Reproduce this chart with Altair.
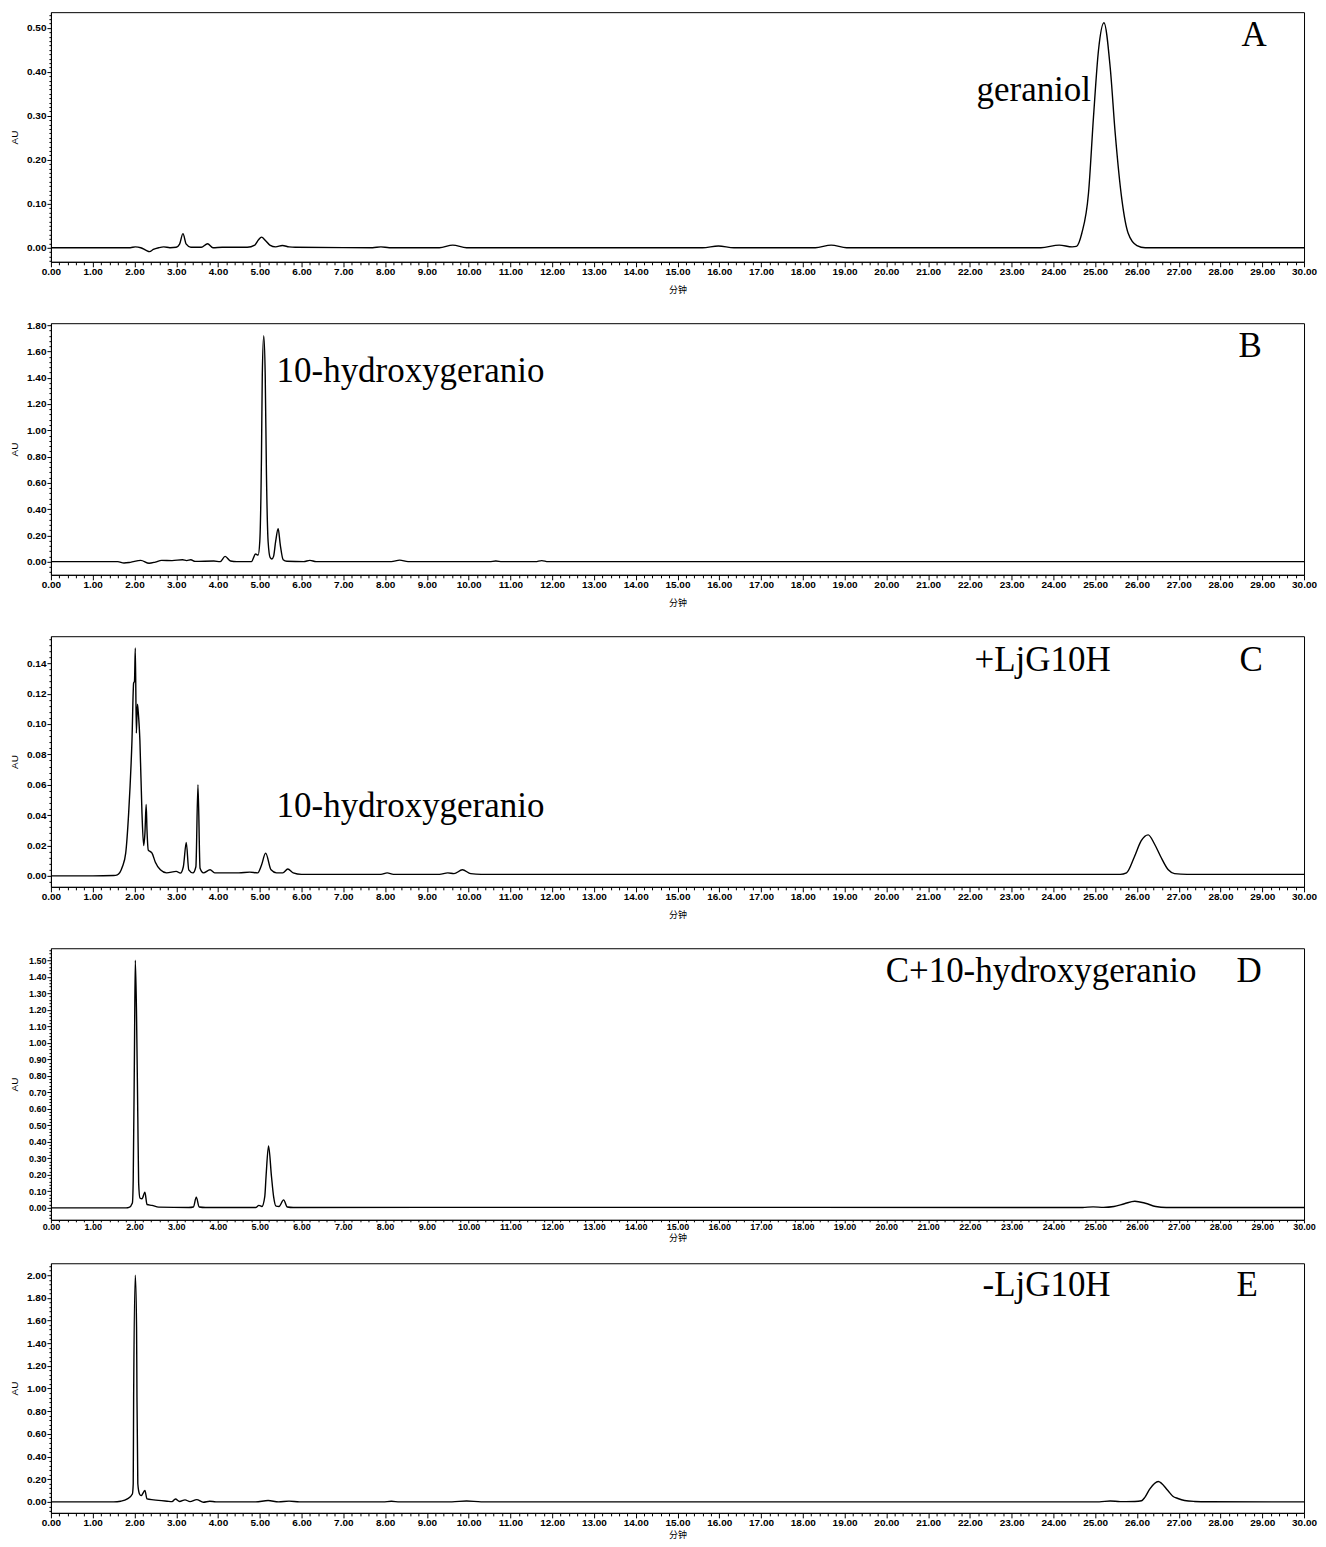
import math
import altair as alt
import pandas as pd

# ---------------- data ----------------
# Panel A
tA = [0.0, 1.9, 2.02, 2.15, 2.28, 2.36, 2.45, 2.58, 2.7, 2.85,
      3.0, 3.08, 3.16, 3.24, 3.35, 3.6, 3.75, 3.88, 4.1, 4.7,
      4.88, 4.97, 5.04, 5.14, 5.24, 5.38, 5.54, 5.7, 5.85, 7.7,
      7.9, 8.1, 9.3, 9.62, 9.95, 15.6, 15.98, 16.35, 18.3, 18.68,
      19.05, 23.7, 24.14, 24.45, 24.55, 24.68, 24.84, 24.96, 25.08, 25.21,
      25.36, 25.48, 25.64, 25.79, 26.0, 26.2, 30.0]
yA = [0.0, 0.0, 0.002, 0.0, -0.006, -0.009, -0.004, 0.0, 0.002, 0.0,
      0.001, 0.008, 0.032, 0.008, 0.001, 0.001, 0.009, 0.0, 0.001, 0.001,
      0.006, 0.018, 0.024, 0.016, 0.006, 0.002, 0.005, 0.002, 0.001, 0.0,
      0.002, 0.0, 0.0, 0.006, 0.0, 0.0, 0.004, 0.0, 0.0, 0.006,
      0.0, 0.0, 0.006, 0.002, 0.003, 0.033, 0.124, 0.298, 0.45, 0.512,
      0.41, 0.26, 0.109, 0.033, 0.005, 0.0, 0.0]

# Panel B
tB = [0.0, 1.6, 1.75, 1.9, 2.15, 2.35, 2.5, 2.65, 2.9, 3.15,
      3.25, 3.35, 3.45, 3.9, 4.05, 4.17, 4.3, 4.45, 4.8, 4.9,
      4.96, 5.0, 5.04, 5.06, 5.095, 5.13, 5.16, 5.2, 5.25, 5.29,
      5.33, 5.38, 5.44, 5.49, 5.56, 5.65, 6.05, 6.2, 6.35, 8.15,
      8.35, 8.55, 10.5, 10.65, 10.8, 11.6, 11.75, 11.9, 30.0]
yB = [0.0, 0.0, -0.01, -0.005, 0.01, -0.012, -0.003, 0.01, 0.008, 0.015,
      0.008, 0.015, 0.002, 0.005, 0.0, 0.04, 0.005, 0.0, 0.0, 0.058,
      0.05, 0.154, 0.79, 1.42, 1.72, 1.42, 0.66, 0.15, 0.03, 0.02,
      0.04, 0.154, 0.25, 0.13, 0.015, 0.003, 0.0, 0.01, 0.0, 0.0,
      0.012, 0.0, 0.0, 0.005, 0.0, 0.0, 0.008, 0.0, 0.0]

# Panel C
tC = [0.0, 1.0, 1.5, 1.59, 1.71, 1.79, 1.86, 1.94, 1.98, 2.0,
      2.02, 2.045, 2.07, 2.09, 2.13, 2.18, 2.22, 2.25, 2.28, 2.30,
      2.33, 2.38, 2.42, 2.5, 2.62, 2.77, 3.0, 3.1, 3.17, 3.24,
      3.3, 3.4, 3.47, 3.52, 3.57, 3.65, 3.81, 3.92, 4.5, 4.76,
      4.95, 5.04, 5.14, 5.27, 5.4, 5.55, 5.67, 5.8, 6.0, 7.9,
      8.05, 8.2, 9.3, 9.5, 9.65, 9.85, 10.05, 10.3, 25.6, 25.75,
      25.94, 26.1, 26.27, 26.42, 26.57, 26.75, 26.9, 27.2, 30.0]
yC = [0.0, 0.0, 0.0003, 0.0007, 0.006, 0.015, 0.041, 0.089, 0.127, 0.128,
      0.150, 0.094, 0.113, 0.108, 0.089, 0.041, 0.020, 0.028, 0.047, 0.030,
      0.017, 0.016, 0.015, 0.009, 0.004, 0.002, 0.003, 0.0018, 0.006, 0.022,
      0.004, 0.002, 0.006, 0.060, 0.005, 0.002, 0.004, 0.002, 0.002, 0.0025,
      0.002, 0.007, 0.015, 0.004, 0.002, 0.002, 0.0045, 0.002, 0.001, 0.001,
      0.002, 0.001, 0.001, 0.002, 0.0015, 0.004, 0.0015, 0.001, 0.001, 0.002,
      0.0126, 0.023, 0.027, 0.021, 0.0126, 0.004, 0.0015, 0.001, 0.001]

# Panel D
tD = [0.0, 1.8, 1.87, 1.95, 1.97, 2.0, 2.02, 2.05, 2.08, 2.10,
      2.13, 2.18, 2.25, 2.30, 2.42, 2.58, 3.3, 3.41, 3.48, 3.55,
      3.7, 4.9, 4.98, 5.05, 5.12, 5.15, 5.21, 5.28, 5.33, 5.39,
      5.46, 5.57, 5.66, 5.8, 12.0, 24.7, 24.95, 25.2, 25.45, 25.7,
      25.95, 26.2, 26.45, 26.7, 30.0]
yD = [0.0, 0.0, 0.003, 0.03, 0.17, 0.96, 1.50, 1.16, 0.55, 0.15,
      0.06, 0.055, 0.095, 0.02, 0.015, 0.004, 0.002, 0.005, 0.065, 0.005,
      0.002, 0.002, 0.015, 0.008, 0.07, 0.19, 0.375, 0.19, 0.07, 0.01,
      0.008, 0.048, 0.005, 0.002, 0.003, 0.002, 0.006, 0.003, 0.008, 0.025,
      0.04, 0.028, 0.008, 0.002, 0.002]

# Panel E
tE = [0.0, 1.5, 1.67, 1.83, 1.95, 1.97, 1.98, 2.02, 2.05, 2.06,
      2.08, 2.12, 2.16, 2.25, 2.30, 2.46, 2.78, 2.9, 2.98, 3.08,
      3.21, 3.33, 3.49, 3.65, 3.8, 3.95, 4.9, 5.2, 5.45, 5.7,
      5.95, 7.95, 8.15, 8.35, 9.6, 9.95, 10.3, 25.1, 25.36, 25.6,
      25.95, 26.11, 26.19, 26.31, 26.51, 26.74, 26.86, 26.98, 27.14, 27.38,
      27.7, 30.0]
yE = [0.0, 0.0, 0.006, 0.026, 0.07, 0.16, 0.92, 2.0, 1.54, 0.92,
      0.16, 0.07, 0.055, 0.10, 0.026, 0.018, 0.006, 0.002, 0.026, 0.003,
      0.018, 0.002, 0.02, -0.003, 0.006, 0.0, 0.0, 0.012, 0.0, 0.007,
      0.0, 0.0, 0.005, 0.0, 0.0, 0.008, 0.0, 0.0, 0.008, 0.002,
      0.003, 0.01, 0.04, 0.115, 0.18, 0.10, 0.05, 0.03, 0.012, 0.004,
      0.001, 0.0]

# text labels
labelsA = ["A", "geraniol"]
labelsB = ["B", "10-hydroxygeranio"]
labelsC = ["C", "+LjG10H", "10-hydroxygeranio"]
labelsD = ["D", "C+10-hydroxygeranio"]
labelsE = ["E", "-LjG10H"]
x_title = "分钟"
y_title = "AU"

# ---------------- helpers ----------------
SANS = "Liberation Sans"
SERIF = "Liberation Serif"
CJK = "Noto Sans CJK SC"
W = 1255
ASC = 28  # baseline offset of 35px serif text drawn with baseline "top"


def tick_values(lo, hi, step):
    n0 = math.ceil(lo / step - 1e-9)
    n1 = math.floor(hi / step + 1e-9)
    return [round(i * step, 6) for i in range(n0, n1 + 1)]


def is_multiple(step):
    return f"abs(datum.value/{step} - round(datum.value/{step})) < 1e-6"


def panel(t, y, ydom, ymajor, yminor, height, texts,
          xlab=10, xtick=(5, 3), xtitle_pad=8.5, extra=None,
          ylab=10, ytitle_pad=7.5):
    df = pd.DataFrame({"t": t, "au": y})
    xtest = is_multiple(1)
    ytest = is_multiple(ymajor)
    title = [x_title, " "] if extra else x_title
    x_kwargs = dict(titleLineHeight=extra) if extra else {}
    x_axis = alt.Axis(
        values=tick_values(0, 30, 0.2),
        labelExpr=f"({xtest}) ? format(datum.value, '.2f') : ''",
        labelFontSize={"condition": {"test": xtest, "value": xlab}, "value": 0},
        tickSize={"condition": {"test": xtest, "value": xtick[0]},
                  "value": xtick[1]},
        labelFlush=False, labelOverlap=False, grid=False,
        title=title, titleFont=CJK, titleFontSize=9, titleFontWeight="normal",
        titlePadding=xtitle_pad,
        labelPadding=0, labelFont=SANS,
        labelFontWeight="bold", labelColor="black",
        domainColor="black", tickColor="black", titleColor="black",
        **x_kwargs,
    )
    y_axis = alt.Axis(
        values=tick_values(ydom[0], ydom[1], yminor),
        labelExpr=f"({ytest}) ? format(datum.value, '.2f') : ''",
        labelFontSize={"condition": {"test": ytest, "value": ylab}, "value": 0},
        tickSize={"condition": {"test": ytest, "value": 4}, "value": 2},
        labelOverlap=False, labelFlush=False, grid=False,
        title=y_title, titleFont=SANS, titleFontSize=10,
        titleFontWeight="normal", titlePadding=ytitle_pad,
        labelPadding=1, labelFont=SANS,
        labelFontWeight="bold", labelColor="black",
        domainColor="black", tickColor="black", titleColor="black",
    )
    line = alt.Chart(df).mark_line(
        color="black", strokeWidth=1.4, interpolate="monotone", clip=True
    ).encode(
        x=alt.X("t:Q", scale=alt.Scale(domain=[0, 30], nice=False, zero=False),
                axis=x_axis),
        y=alt.Y("au:Q", scale=alt.Scale(domain=list(ydom), nice=False, zero=False),
                axis=y_axis),
    )
    layers = [line]
    for txt, px, base, align in texts:
        layers.append(
            alt.Chart(pd.DataFrame({"label": [txt]})).mark_text(
                font=SERIF, fontSize=35, align=align, baseline="top",
                color="black"
            ).encode(text="label:N", x=alt.value(px), y=alt.value(base - ASC))
        )
    return alt.layer(*layers).properties(width=W, height=height)


pA = panel(tA, yA, (-0.032, 0.536), 0.1, 0.01, 250,
           [(labelsA[0], 1205, 34, "center"), (labelsA[1], 927, 89, "left")],
           extra=4.5)
pB = panel(tB, yB, (-0.1, 1.815), 0.2, 0.04, 252,
           [(labelsB[0], 1201, 34, "center"), (labelsB[1], 226, 59, "left")],
           extra=7.5)
pC = panel(tC, yC, (-0.0072, 0.1578), 0.02, 0.004, 251,
           [(labelsC[0], 1202, 35, "center"), (labelsC[1], 925, 35, "left"),
            (labelsC[2], 226, 181, "left")],
           extra=7.5)
pD = panel(tD, yD, (-0.0726, 1.5726), 0.1, 0.02, 272,
           [(labelsD[0], 1200, 34, "center"), (labelsD[1], 836, 34, "left")],
           xlab=9, xtick=(3, 2), xtitle_pad=1.5, ylab=9, ytitle_pad=9.4)
pE = panel(tE, yE, (-0.097, 2.1057), 0.2, 0.04, 250,
           [(labelsE[0], 1198, 33, "center"), (labelsE[1], 933, 33, "left")],
           xtitle_pad=3)

chart = alt.vconcat(pA, pB, pC, pD, pE, spacing=19.5).properties(
    padding={"left": 0, "top": 2, "right": 0, "bottom": 0}
).configure(background="white").configure_view(stroke="black", strokeWidth=1)

chart.save("out.html", embed_options={"renderer": "svg", "actions": False})
